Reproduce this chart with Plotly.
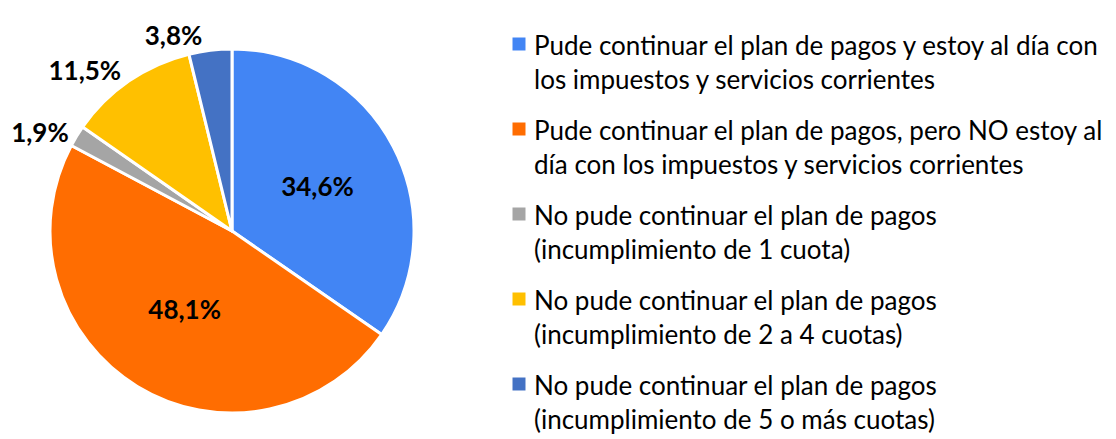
import plotly.graph_objects as go

labels = [
    "Pude continuar el plan de pagos y estoy al día con<br>los impuestos y servicios corrientes",
    "Pude continuar el plan de pagos, pero NO estoy al<br>día con los impuestos y servicios corrientes",
    "No pude continuar el plan de pagos<br>(incumplimiento de 1 cuota)",
    "No pude continuar el plan de pagos<br>(incumplimiento de 2 a 4 cuotas)",
    "No pude continuar el plan de pagos<br>(incumplimiento de 5 o más cuotas)",
]
values = [34.6, 48.1, 1.9, 11.5, 3.8]
colors = ["#4285F4", "#FF6D01", "#A5A5A5", "#FFC000", "#4472C4"]
positions = ["inside", "inside", "outside", "outside", "outside"]

# page has an 8px body margin: figure sized to fit the window
OFF = 8
W, H = 1116 - OFF, 439 - OFF
FONT = "Lato"
texts = [f"{v:.1f}%".replace(".", ",") for v in values]


def px(x):
    return (x - OFF) / W


def py(y):
    return 1 - (y - OFF) / H


cx, cy, half = 232, 231, 182
fig = go.Figure()
fig.add_trace(go.Pie(
    labels=labels, values=values, text=texts, texttemplate="%{text}",
    textposition=positions, sort=False, direction="clockwise", rotation=0,
    marker=dict(colors=colors, line=dict(color="white", width=3)),
    textfont=dict(family=FONT, size=26, color="black", weight="bold"),
    insidetextorientation="horizontal", showlegend=False,
    domain=dict(x=[px(cx - half), px(cx + half)],
                y=[py(cy + half), py(cy - half)]),
))

# legend drawn manually
x_mark = 519
x_text = 532
y0 = 44
entry_gap = 85
line_gap = 34
text_shift = 1
shapes = []
annotations = []
for i, (lab, col) in enumerate(zip(labels, colors)):
    yc = y0 + entry_gap * i
    shapes.append(dict(type="rect", xref="paper", yref="paper",
                       x0=px(x_mark - 6.5), x1=px(x_mark + 6.5),
                       y0=py(yc + 6.5), y1=py(yc - 6.5),
                       fillcolor=col, line=dict(width=0)))
    for j, line in enumerate(lab.split("<br>")):
        annotations.append(dict(
            text=line, xref="paper", yref="paper", x=px(x_text),
            y=py(yc + text_shift + line_gap * j), xanchor="left", yanchor="middle",
            showarrow=False, font=dict(family=FONT, size=26, color="black")))

fig.update_layout(
    width=W, height=H, margin=dict(l=0, r=0, t=0, b=0, autoexpand=False),
    paper_bgcolor="white", plot_bgcolor="white",
    shapes=shapes, annotations=annotations,
)
fig.write_html("out.html")
